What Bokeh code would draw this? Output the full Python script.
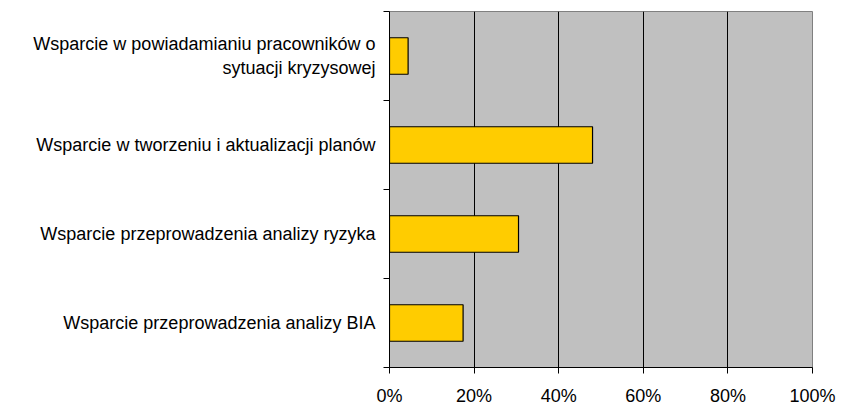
from bokeh.plotting import figure
from bokeh.models import Range1d, FixedTicker, PrintfTickFormatter, ColumnDataSource
from bokeh.embed import file_html
from bokeh.resources import INLINE

categories = [
    "Wsparcie w powiadamianiu pracowników o\nsytuacji kryzysowej",
    "Wsparcie w tworzeniu i aktualizacji planów",
    "Wsparcie przeprowadzenia analizy ryzyka",
    "Wsparcie przeprowadzenia analizy BIA",
]
values = [4.4, 48.0, 30.5, 17.4]
x_ticks = [0, 20, 40, 60, 80, 100]

n = len(categories)
ypos = [n - i - 0.5 for i in range(n)]
src = ColumnDataSource(dict(y=ypos, v=values, cat=categories))

p = figure(width=846, height=408, output_backend="svg", toolbar_location=None,
           x_range=Range1d(0, 100), y_range=Range1d(0, n),
           min_border_left=389, min_border_right=34, min_border_top=11, min_border_bottom=38)
p.background_fill_color = "#C0C0C0"
p.border_fill_color = "white"
p.outline_line_color = "#808080"
p.outline_line_width = 1

p.hbar(y="y", right="v", left=0, height=0.41, source=src,
       fill_color="#FFCC00", line_color="black", line_width=1.2)

# x axis
p.xaxis.ticker = FixedTicker(ticks=x_ticks)
p.xaxis.formatter = PrintfTickFormatter(format="%d%%")
p.xaxis.major_tick_in = 0
p.xaxis.major_tick_out = 6
p.xaxis.minor_tick_line_color = None
p.xaxis.axis_line_color = "black"
p.xaxis.major_label_text_font = "Liberation Sans"
p.xaxis.major_label_text_font_size = "18px"
p.xaxis.major_label_text_color = "black"
p.xaxis.major_label_standoff = 12

p.xgrid.ticker = FixedTicker(ticks=x_ticks[1:-1])
p.xgrid.grid_line_color = "black"
p.xgrid.grid_line_width = 1
p.ygrid.grid_line_color = None

# y axis: labels at category centres, ticks at boundaries
p.yaxis.ticker = FixedTicker(ticks=ypos, minor_ticks=list(range(n + 1)))
p.yaxis.major_label_overrides = {y: c for y, c in zip(ypos, categories)}
p.yaxis.major_tick_in = 0
p.yaxis.major_tick_out = 0
p.yaxis.minor_tick_in = 0
p.yaxis.minor_tick_out = 6
p.yaxis.minor_tick_line_color = "black"
p.yaxis.axis_line_color = "black"
p.yaxis.major_label_text_font = "Liberation Sans"
p.yaxis.major_label_text_font_size = "18px"
p.yaxis.major_label_text_color = "black"
p.yaxis.major_label_standoff = 8

open("out.html", "w").write(file_html(p, INLINE))
